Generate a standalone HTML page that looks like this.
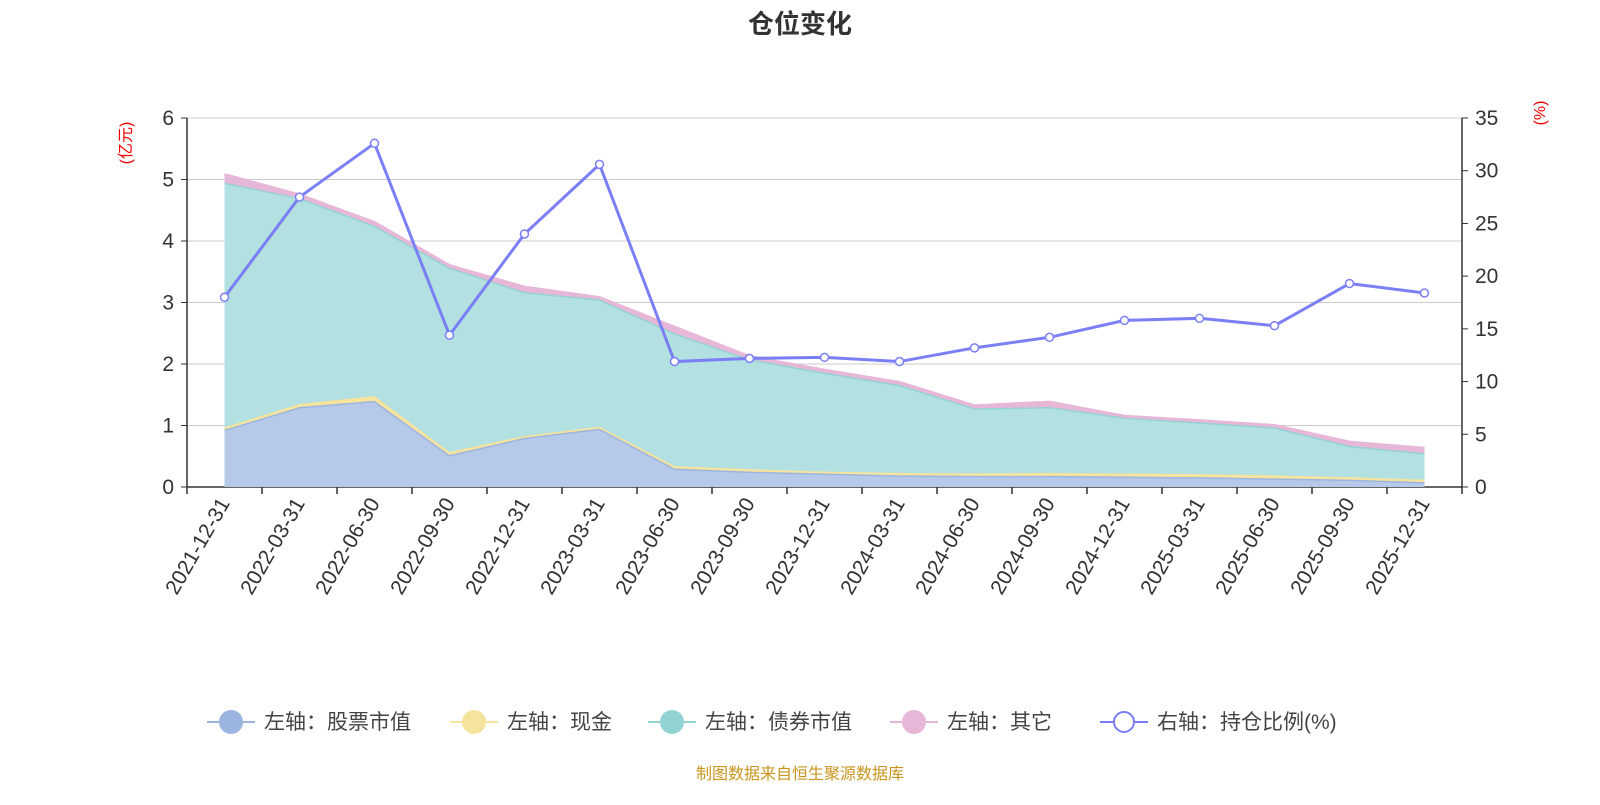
<!DOCTYPE html>
<html><head><meta charset="utf-8"><style>
body{margin:0;background:#fff;width:1600px;height:800px;overflow:hidden}
svg text{font-family:"Liberation Sans","Noto Sans CJK SC",sans-serif}
</style></head><body>
<svg id="c" width="1600" height="800">
<text x="800" y="33" text-anchor="middle" font-size="26" font-weight="bold" fill="#333">仓位变化</text>
<text x="0" y="0" transform="translate(131,143) rotate(-90)" text-anchor="middle" font-size="16" fill="#e00">(亿元)</text>
<text x="0" y="0" transform="translate(1545,113) rotate(-90)" text-anchor="middle" font-size="16" fill="#e00">(%)</text>
<g id="grid"></g><g id="areas"></g><g id="axes"></g><g id="line"></g>
<g id="legend" font-size="21" fill="#444"></g>
<text x="800" y="779" text-anchor="middle" font-size="16" fill="#c8951e">制图数据来自恒生聚源数据库</text>
</svg>
<script>
const categories=["2021-12-31","2022-03-31","2022-06-30","2022-09-30","2022-12-31","2023-03-31","2023-06-30","2023-09-30","2023-12-31","2024-03-31","2024-06-30","2024-09-30","2024-12-31","2025-03-31","2025-06-30","2025-09-30","2025-12-31"];
const stock=[0.93,1.30,1.40,0.52,0.80,0.95,0.30,0.25,0.22,0.19,0.18,0.18,0.17,0.16,0.14,0.12,0.08];
const cash=[0.04,0.05,0.08,0.05,0.03,0.03,0.04,0.04,0.03,0.04,0.04,0.05,0.05,0.05,0.05,0.04,0.04];
const bond=[3.98,3.35,2.77,3.00,2.34,2.07,2.16,1.79,1.61,1.43,1.06,1.07,0.91,0.84,0.78,0.51,0.43];
const other=[0.13,0.05,0.05,0.03,0.08,0.03,0.10,0.04,0.04,0.04,0.04,0.08,0.02,0.03,0.03,0.06,0.08];
const ratio=[18.0,27.5,32.6,14.4,24.0,30.6,11.9,12.2,12.3,11.9,13.2,14.2,15.8,16.0,15.3,19.3,18.4];
const leftTicks=[0,1,2,3,4,5,6];
const rightTicks=[0,5,10,15,20,25,30,35];
const NS="http://www.w3.org/2000/svg";
const X0=187,X1=1462,Y0=487,Y1=118;
const bw=(X1-X0)/categories.length;
const x=i=>X0+bw*(i+0.5);
const yl=v=>Y0-(Y0-Y1)*v/6;
const yr=v=>Y0-(Y0-Y1)*v/35;
function mk(tag,attrs,parent){const e=document.createElementNS(NS,tag);for(const k in attrs)e.setAttribute(k,attrs[k]);document.getElementById(parent).appendChild(e);return e;}
leftTicks.forEach(t=>{
 const g=mk('line',{x1:X0,x2:X1,y1:yl(t),y2:yl(t),stroke:t?'#ccc':'#333','stroke-width':t?1:1.5},'grid');
 
 
 mk('line',{x1:X0-6,x2:X0,y1:yl(t),y2:yl(t),stroke:'#333'},'axes');
 const tx=mk('text',{x:X0-13,y:yl(t)+7,'text-anchor':'end','font-size':21,fill:'#333'},'axes');tx.textContent=t;
 
 
});
rightTicks.forEach(t=>{
 mk('line',{x1:X1,x2:X1+6,y1:yr(t),y2:yr(t),stroke:'#333'},'axes');
 const tx=mk('text',{x:X1+13,y:yr(t)+7,'font-size':21,fill:'#333'},'axes');tx.textContent=t;
 
 
});
mk('line',{x1:X0,x2:X0,y1:Y1,y2:Y0,stroke:'#333','stroke-width':1.5},'axes');
mk('line',{x1:X1,x2:X1,y1:Y1,y2:Y0,stroke:'#333','stroke-width':1.5},'axes');
for(let i=0;i<=categories.length;i++)mk('line',{x1:X0+bw*i,x2:X0+bw*i,y1:Y0,y2:Y0+7,stroke:'#333','stroke-width':1.5},'axes');
categories.forEach((c,i)=>{
 const tx=mk('text',{transform:`translate(${x(i)+6},${Y0+16}) rotate(-60)`,'text-anchor':'end','font-size':21,fill:'#333'},'axes');tx.textContent=c;
 
 
});
const series=[[stock,'#9bb5e0','#b7c9e9','stock-area'],[cash,'#f5e39e','#f5e39e','cash-area'],[bond,'#93d3d3','#b3e0e0','bond-area'],[other,'#e6b7d7','#e6b7d7','other-area']];
let base=categories.map(()=>0);
series.forEach(([vals,lc,fc,name])=>{
 const top=base.map((b,i)=>b+vals[i]);
 const up=top.map((v,i)=>`${x(i)},${yl(v)}`);
 const dn=base.map((v,i)=>`${x(i)},${yl(v)}`).reverse();
 const a=mk('polygon',{points:up.concat(dn).join(' '),fill:fc},'areas');
 
 
 mk('polyline',{points:up.join(' '),fill:'none',stroke:lc,'stroke-width':3},'areas');
 base=top;
});
const pl=mk('polyline',{points:ratio.map((v,i)=>`${x(i)},${yr(v)}`).join(' '),fill:'none',stroke:'#7b7ff5','stroke-width':3},'line');


ratio.forEach((v,i)=>{
 const p=mk('circle',{cx:x(i),cy:yr(v),r:4,fill:'#fff',stroke:'#7b7ff5','stroke-width':1.5},'line');
 
 
});
const legend=[['左轴：股票市值','#9bb5e0',207,false],['左轴：现金','#f5e39e',450,false],['左轴：债券市值','#93d3d3',648,false],['左轴：其它','#e6b7d7',890,false],['右轴：持仓比例(%)','#7b7ff5',1100,true]];
legend.forEach(([t,c,lx,hollow])=>{
 const g=mk('g',{},'legend');
 
 
 const L=(tag,a)=>{const e=document.createElementNS(NS,tag);for(const k in a)e.setAttribute(k,a[k]);g.appendChild(e);return e;};
 L('line',{x1:lx,x2:lx+48,y1:722,y2:722,stroke:c,'stroke-width':2});
 L('circle',{cx:lx+24,cy:722,r:hollow?10:11,fill:hollow?'#fff':c,stroke:c,'stroke-width':2});
 const tx=L('text',{x:lx+57,y:729,'font-size':21,fill:'#444'});tx.textContent=t;
});
</script>
</body></html>
